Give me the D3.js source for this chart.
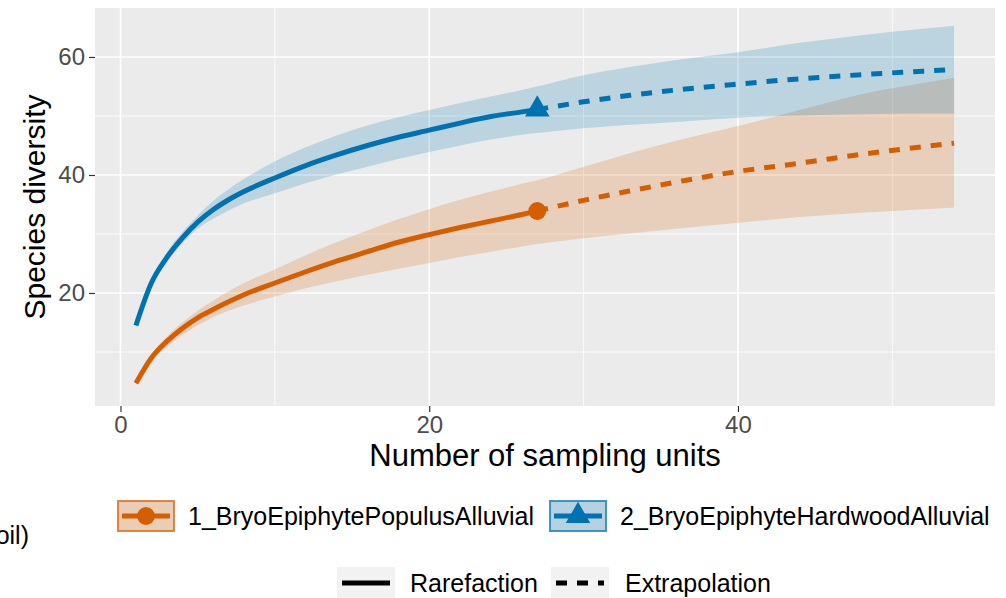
<!DOCTYPE html>
<html>
<head>
<meta charset="utf-8">
<script src="https://cdn.jsdelivr.net/npm/d3@7"></script>
<style>
  body { margin: 0; background: #fff; }
  svg text { font-family: "Liberation Sans", Arial, Helvetica, sans-serif; }
</style>
</head>
<body>
<svg id="chart" width="1006" height="598"></svg>
<script>
// sampling sizes (knots) shared by both assemblages
const allX = [1,2,3,4,5,6,7,8,10,12,14,16,18,20,22,24,26,27,30,33,36,40,44,48,52,54];
const rareX = [1,2,3,4,5,6,7,8,10,12,14,16,18,20,22,24,26,27];
const extraX = [27,30,33,36,40,44,48,52,54];

const siteNames = ["1_BryoEpiphytePopulusAlluvial", "2_BryoEpiphyteHardwoodAlluvial"];
const methodNames = ["Rarefaction", "Extrapolation"];

// 1_BryoEpiphytePopulusAlluvial
const populusRare = [4.7,9.0,11.8,14.0,15.8,17.2,18.5,19.7,21.7,23.6,25.4,27.0,28.6,29.9,31.1,32.2,33.3,33.9];
const populusExtra = [33.9,35.7,37.3,38.8,40.6,42.0,43.5,44.8,45.4];
const populusUpper = [5.0,9.6,12.6,15.0,17.0,18.7,20.3,21.7,24.0,26.4,28.6,30.6,32.5,34.2,35.8,37.2,38.5,39.1,41.4,43.7,45.8,48.3,51.0,53.7,55.6,56.5];
const populusLower = [4.4,8.4,10.9,12.9,14.5,15.9,17.0,17.9,19.4,20.8,22.0,23.1,24.1,25.1,26.1,27.0,27.9,28.3,29.3,30.1,30.9,31.9,32.9,33.6,34.2,34.5];

// 2_BryoEpiphyteHardwoodAlluvial
const hardwoodRare = [14.5,21.7,26.0,29.3,32.0,34.1,35.8,37.2,39.5,41.6,43.4,45.0,46.4,47.6,48.8,49.9,50.7,51.1];
const hardwoodExtra = [51.1,52.4,53.5,54.4,55.4,56.3,57.0,57.6,57.9];
const hardwoodUpper = [14.8,22.3,26.9,30.3,33.1,35.6,37.6,39.3,42.3,44.7,46.7,48.4,49.8,51.0,52.2,53.3,54.4,55.0,56.9,58.3,59.5,60.8,62.4,63.7,64.8,65.3];
const hardwoodLower = [14.2,21.1,25.2,28.4,30.9,32.6,34.0,35.2,36.9,38.6,40.1,41.4,42.7,43.9,45.0,46.0,46.8,47.1,47.9,48.5,49.0,49.7,50.1,50.3,50.4,50.4];

const xTicks = [0, 20, 40];
const yTicks = [20, 40, 60];
const xMinor = [10, 30, 50];
const yMinor = [10, 30, 50];

const colors = ["#D55E00", "#0072B2"];

const sites = [
  {name: siteNames[0], color: colors[0], shape: "circle",
   rare: rareX.map((x, i) => [x, populusRare[i]]),
   extra: extraX.map((x, i) => [x, populusExtra[i]]),
   band: allX.map((x, i) => [x, populusLower[i], populusUpper[i]])},
  {name: siteNames[1], color: colors[1], shape: "triangle",
   rare: rareX.map((x, i) => [x, hardwoodRare[i]]),
   extra: extraX.map((x, i) => [x, hardwoodExtra[i]]),
   band: allX.map((x, i) => [x, hardwoodLower[i], hardwoodUpper[i]])}
];

const svg = d3.select("#chart");
const panel = {left: 95, right: 995, top: 8, bottom: 406};

const x = d3.scaleLinear().domain([-1.65, 56.65]).range([panel.left, panel.right]);
const y = d3.scaleLinear().domain([0.85, 68.3]).range([panel.bottom, panel.top]);

// panel background
svg.append("rect")
  .attr("x", panel.left).attr("y", panel.top)
  .attr("width", panel.right - panel.left).attr("height", panel.bottom - panel.top)
  .attr("fill", "#ebebeb");

// grid
const grid = svg.append("g");
grid.selectAll(".xminor").data(xMinor).enter().append("line")
  .attr("x1", d => x(d)).attr("x2", d => x(d))
  .attr("y1", panel.top).attr("y2", panel.bottom)
  .attr("stroke", "#fff").attr("stroke-width", 0.8);
grid.selectAll(".yminor").data(yMinor).enter().append("line")
  .attr("y1", d => y(d)).attr("y2", d => y(d))
  .attr("x1", panel.left).attr("x2", panel.right)
  .attr("stroke", "#fff").attr("stroke-width", 0.8);
grid.selectAll(".xmajor").data(xTicks).enter().append("line")
  .attr("x1", d => x(d)).attr("x2", d => x(d))
  .attr("y1", panel.top).attr("y2", panel.bottom)
  .attr("stroke", "#fff").attr("stroke-width", 1.6);
grid.selectAll(".ymajor").data(yTicks).enter().append("line")
  .attr("y1", d => y(d)).attr("y2", d => y(d))
  .attr("x1", panel.left).attr("x2", panel.right)
  .attr("stroke", "#fff").attr("stroke-width", 1.6);

// ribbons
const area = d3.area().x(d => x(d[0])).y0(d => y(d[1])).y1(d => y(d[2])).curve(d3.curveMonotoneX);
svg.append("g").selectAll("path").data(sites).enter().append("path")
  .attr("d", d => area(d.band))
  .attr("fill", d => d.color)
  .attr("fill-opacity", 0.2);

// lines
const line = d3.line().x(d => x(d[0])).y(d => y(d[1])).curve(d3.curveMonotoneX);
const lines = svg.append("g");
lines.selectAll(".rare").data(sites).enter().append("path")
  .attr("d", d => line(d.rare))
  .attr("fill", "none").attr("stroke", d => d.color)
  .attr("stroke-width", 5).attr("stroke-linejoin", "round");
lines.selectAll(".extra").data(sites).enter().append("path")
  .attr("d", d => line(d.extra))
  .attr("fill", "none").attr("stroke", d => d.color)
  .attr("stroke-width", 5).attr("stroke-dasharray", "11,10");

// reference sample points
const circleSym = d3.symbol().type(d3.symbolCircle).size(250);
const triSym = d3.symbol().type(d3.symbolTriangle).size(260);
svg.append("g").selectAll("path").data(sites).enter().append("path")
  .attr("transform", d => {
    const p = d.rare[d.rare.length - 1];
    return "translate(" + x(p[0]) + "," + y(p[1]) + ")";
  })
  .attr("d", d => d.shape === "circle" ? circleSym() : triSym())
  .attr("fill", d => d.color);

// axes
const xAxis = svg.append("g")
  .attr("transform", "translate(0," + panel.bottom + ")")
  .call(d3.axisBottom(x).tickValues(xTicks).tickSize(6).tickPadding(4));
const yAxis = svg.append("g")
  .attr("transform", "translate(" + panel.left + ",0)")
  .call(d3.axisLeft(y).tickValues(yTicks).tickSize(6).tickPadding(4));
[xAxis, yAxis].forEach(a => {
  a.select(".domain").remove();
  a.selectAll(".tick line").attr("stroke", "#333").attr("stroke-width", 1.2);
  a.selectAll(".tick text").attr("fill", "#4d4d4d")
    .style("font-size", "24px").style("font-family", "Liberation Sans, Arial, sans-serif");
});

// axis titles
svg.append("text")
  .attr("x", (panel.left + panel.right) / 2).attr("y", 466)
  .attr("text-anchor", "middle").style("font-size", "31px")
  .text("Number of sampling units");
svg.append("text")
  .attr("transform", "translate(45," + (panel.top + panel.bottom) / 2 + ") rotate(-90)")
  .attr("text-anchor", "middle").style("font-size", "30px")
  .text("Species diversity");

// clipped legend title fragment on left
svg.append("text")
  .attr("x", 29).attr("y", 544)
  .attr("text-anchor", "end").style("font-size", "25px")
  .text("(soil)");

// legend row 1: assemblages
const keyW = 58, keyH = 32;
const leg1 = [{key: 117, text: 188}, {key: 549, text: 620}];
const row1 = svg.append("g").selectAll("g").data(sites).enter().append("g")
  .attr("transform", (d, i) => "translate(" + leg1[i].key + ",500)");
row1.append("rect")
  .attr("width", keyW).attr("height", keyH)
  .attr("fill", "#f2f2f2");
row1.append("rect")
  .attr("x", 1).attr("y", 1)
  .attr("width", keyW - 2).attr("height", keyH - 2)
  .attr("fill", d => d.color).attr("fill-opacity", 0.25)
  .attr("stroke", d => d.color).attr("stroke-opacity", 0.7).attr("stroke-width", 2);
row1.append("line")
  .attr("x1", 5).attr("x2", keyW - 5).attr("y1", keyH / 2).attr("y2", keyH / 2)
  .attr("stroke", d => d.color).attr("stroke-width", 5);
row1.append("path")
  .attr("transform", "translate(" + keyW / 2 + "," + keyH / 2 + ")")
  .attr("d", d => d.shape === "circle" ? circleSym() : triSym())
  .attr("fill", d => d.color);
row1.append("text")
  .attr("x", (d, i) => leg1[i].text - leg1[i].key).attr("y", keyH / 2 + 9)
  .style("font-size", "25px")
  .text(d => d.name);

// legend row 2: method
const leg2 = [{key: 337, text: 410, dash: null}, {key: 551, text: 625, dash: "11,10"}];
const row2 = svg.append("g").selectAll("g").data(methodNames).enter().append("g")
  .attr("transform", (d, i) => "translate(" + leg2[i].key + ",567)");
row2.append("rect")
  .attr("width", keyW).attr("height", keyH)
  .attr("fill", "#f2f2f2");
row2.append("line")
  .attr("x1", 5).attr("x2", keyW - 5).attr("y1", keyH / 2).attr("y2", keyH / 2)
  .attr("stroke", "#000").attr("stroke-width", 5)
  .attr("stroke-dasharray", (d, i) => leg2[i].dash);
row2.append("text")
  .attr("x", (d, i) => leg2[i].text - leg2[i].key).attr("y", keyH / 2 + 9)
  .style("font-size", "25px")
  .text(d => d);
</script>
</body>
</html>
